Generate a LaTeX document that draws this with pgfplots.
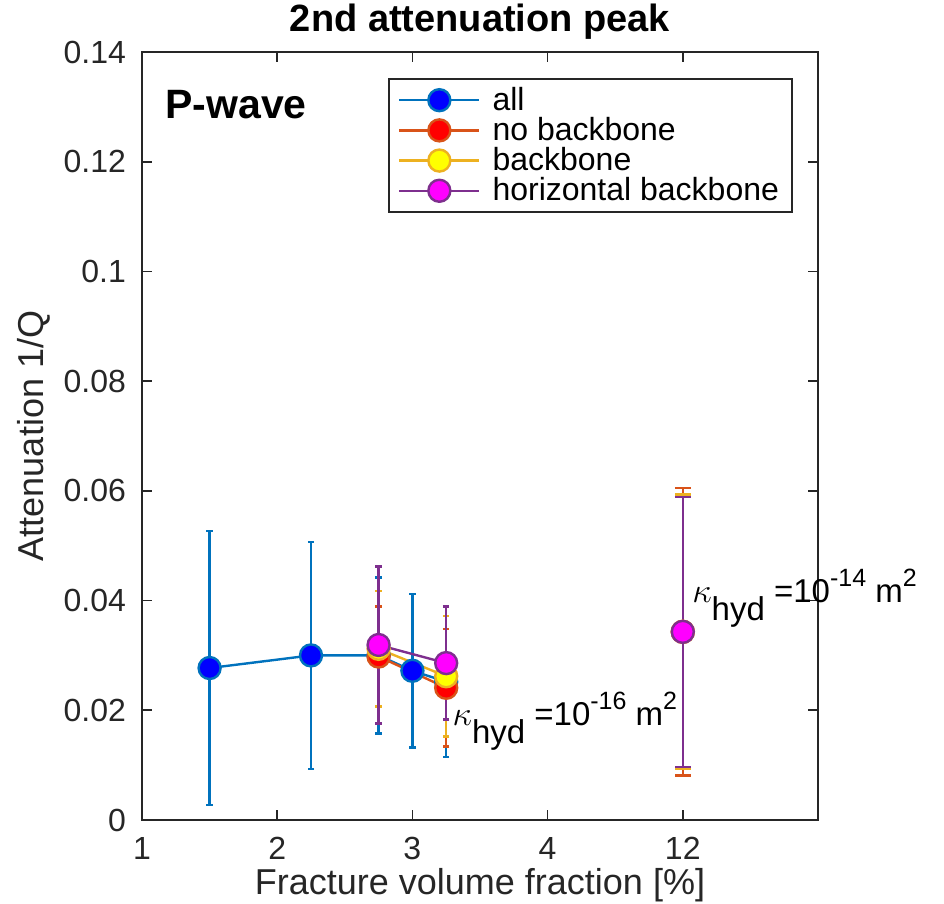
\documentclass[border=0pt]{standalone}
\usepackage{fontspec}
\setmainfont{Liberation Sans}
\usepackage{pgfplots}
\pgfplotsset{compat=1.18}
\definecolor{mblue}{RGB}{0,114,189}
\definecolor{mred}{RGB}{217,83,25}
\definecolor{myellow}{RGB}{237,177,32}
\definecolor{mpurple}{RGB}{126,47,142}
\definecolor{fblue}{RGB}{0,0,255}
\definecolor{fred}{RGB}{255,0,0}
\definecolor{fyellow}{RGB}{255,255,0}
\definecolor{fmag}{RGB}{255,0,255}
\definecolor{axgray}{RGB}{38,38,38}
\pgfplotsset{
  ser/.style n args={2}{color=#1, line width=1.2pt, mark=*, mark size=5.5pt,
    mark options={fill=#2, draw=#1, line width=1.2pt, solid},
    error bars/.cd, y dir=both, y explicit,
    error bar style={line width=1.2pt, color=#1},
    error mark options={rotate=90, mark size=1.6pt, line width=1.2pt, color=#1},
    /pgfplots/.cd},
  widecap/.style={error bars/error mark options={rotate=90, mark size=4pt, line width=1.2pt}},
}
\newcommand{\kap}[1]{$\kappa$\raisebox{-9pt}{hyd} =10\raisebox{8pt}{\fontsize{12.5}{13}\selectfont #1} m\raisebox{8pt}{\fontsize{12.5}{13}\selectfont 2}}
\begin{document}
\begin{tikzpicture}
\useasboundingbox (-71pt,-42pt) rectangle (401pt,410pt);
\begin{axis}[
  at={(0,0)}, anchor=south west,
  scale only axis, width=338pt, height=384pt,
  xmin=1, xmax=6, ymin=0, ymax=0.14,
  clip=false,
  xtick={1,2,3,4,5}, xticklabels={1,2,3,4,12},
  ytick={0,0.02,0.04,0.06,0.08,0.1,0.12,0.14},
  yticklabels={0,0.02,0.04,0.06,0.08,0.1,0.12,0.14},
  /pgf/number format/assume math mode=true,
  tick align=inside, major tick length=5pt,
  tick style={line width=0.8pt, color=axgray},
  axis line style={line width=1pt, color=axgray},
  ticklabel style={font=\fontsize{16}{19}\selectfont, text=axgray},
  xticklabel style={yshift=-5pt},
  yticklabel style={xshift=-4.5pt},
  label style={font=\fontsize{18}{21}\selectfont, text=axgray},
  xlabel style={yshift=2.5pt},
  title style={font=\bfseries\fontsize{19}{22}\selectfont, yshift=-3pt},
  title={2nd attenuation peak},
  xlabel={Fracture volume fraction [\%]},
  ylabel={Attenuation 1/Q},
  legend style={at={(0.963,0.966)}, anchor=north east, font=\fontsize{16}{18}\selectfont,
    draw=axgray, line width=1pt, inner ysep=2pt, inner xsep=4.5pt, row sep=-2pt},
  legend cell align=left,
  legend image code/.code={\draw[mark repeat=2, mark phase=2] plot coordinates {(0pt,0pt)(20pt,0pt)(40pt,0pt)}; \path (44pt,0pt);},
]
\addplot[ser={mblue}{fblue}] coordinates {
  (1.5,0.0277) +- (0,0.0250)
  (2.25,0.0300) +- (0,0.0207)
  (2.75,0.0300) +- (0,0.0142)
  (3,0.0272) +- (0,0.0140)
  (3.25,0.0252) +- (0,0.0137)
};
\addlegendentry{all}
\addplot[ser={mred}{fred}] coordinates {
  (2.75,0.0298) +- (0,0.0091)
  (3.25,0.0241) +- (0,0.0107)
};
\addlegendentry{no backbone}
\addplot[ser={myellow}{fyellow}] coordinates {
  (2.75,0.0312) +- (0,0.0105)
  (3.25,0.0262) +- (0,0.0110)
};
\addlegendentry{backbone}
\addplot[ser={mpurple}{fmag}] coordinates {
  (2.75,0.0319) +- (0,0.0143)
  (3.25,0.0286) +- (0,0.0103)
};
\addlegendentry{horizontal backbone}
\addplot[forget plot, ser={mred}{fred}, widecap] coordinates {(5,0.0343) +- (0,0.0262)};
\addplot[forget plot, ser={myellow}{fyellow}, widecap] coordinates {(5,0.0343) +- (0,0.0250)};
\addplot[forget plot, ser={mpurple}{fmag}, widecap] coordinates {(5,0.0343) +- (0,0.0246)};
\node[anchor=west, inner sep=0pt, font=\bfseries\fontsize{20.5}{24}\selectfont] at (rel axis cs:0.034,0.931) {P-wave};
\node[anchor=base west, inner sep=0pt, font=\fontsize{16.5}{19}\selectfont] at (axis cs:3.294,0.0173) {\kap{-16}};
\node[anchor=base west, inner sep=0pt, font=\fontsize{16.5}{19}\selectfont] at (axis cs:5.067,0.0396) {\kap{-14}};
\end{axis}
\end{tikzpicture}
\end{document}
